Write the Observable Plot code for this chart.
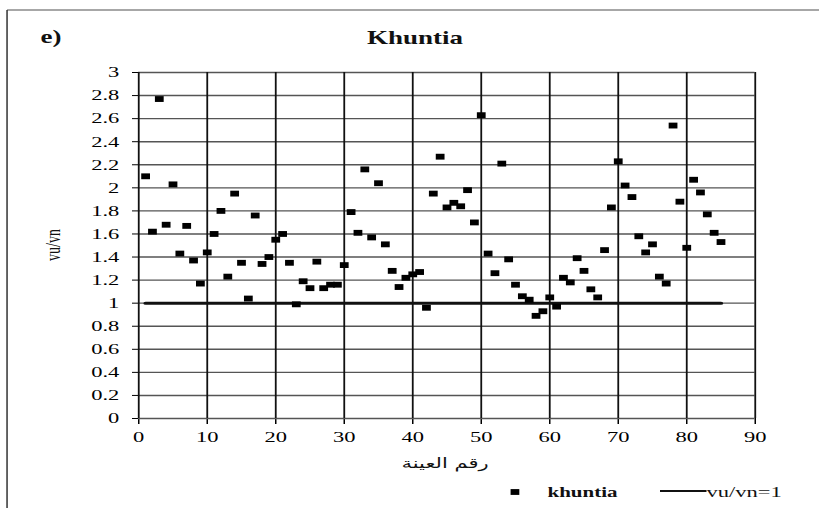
<!DOCTYPE html>
<html>
<head>
<meta charset="utf-8">
<script src="https://cdn.jsdelivr.net/npm/d3@7"></script>
<script src="https://cdn.jsdelivr.net/npm/@observablehq/plot@0.6"></script>
<style>
  html, body { margin: 0; padding: 0; background: #fff; }
  #chart { width: 819px; height: 508px; overflow: hidden; }
</style>
</head>
<body>
<div id="chart"></div>
<script>
// ---- data ----
const vuvnValues = [
  2.10, 1.62, 2.77, 1.68, 2.03, 1.43, 1.67, 1.37, 1.17, 1.44,
  1.60, 1.80, 1.23, 1.95, 1.35, 1.04, 1.76, 1.34, 1.40, 1.55,
  1.60, 1.35, 0.99, 1.19, 1.13, 1.36, 1.13, 1.16, 1.16, 1.33,
  1.79, 1.61, 2.16, 1.57, 2.04, 1.51, 1.28, 1.14, 1.22, 1.25,
  1.27, 0.96, 1.95, 2.27, 1.83, 1.87, 1.84, 1.98, 1.70, 2.63,
  1.43, 1.26, 2.21, 1.38, 1.16, 1.06, 1.03, 0.89, 0.93, 1.05,
  0.97, 1.22, 1.18, 1.39, 1.28, 1.12, 1.05, 1.46, 1.83, 2.23,
  2.02, 1.92, 1.58, 1.44, 1.51, 1.23, 1.17, 2.54, 1.88, 1.48,
  2.07, 1.96, 1.77, 1.61, 1.53
];
const refLineX = [1, 85];
const refLineY = [1, 1];
const xTicks = [0, 10, 20, 30, 40, 50, 60, 70, 80, 90];
const yTicks = [0, 0.2, 0.4, 0.6, 0.8, 1, 1.2, 1.4, 1.6, 1.8, 2, 2.2, 2.4, 2.6, 2.8, 3];
const titleText = "Khuntia";
const panelText = "e)";
const xLabel = "رقم العينة";
const yLabel = "vu/vn";
const legendPoints = "khuntia";
const legendLine = "vu/vn=1";

const points = vuvnValues.map((v, i) => ({sample: i + 1, value: v}));
const refLine = refLineX.map((x, i) => ({x, y: refLineY[i]}));

// internal drawing width; the SVG is stretched horizontally to 819px
const W = 546, H = 508;

const serif = "'Liberation Serif', 'Times New Roman', serif";

const plot = Plot.plot({
  width: W,
  height: H,
  marginLeft: 92,
  marginRight: 43,
  marginTop: 72,
  marginBottom: 90,
  style: {fontFamily: serif, fontSize: "15px", color: "#000", background: "#fff"},
  x: {domain: [0, 90], ticks: xTicks, label: null, tickSize: 6, tickPadding: 7},
  y: {domain: [0, 3], ticks: yTicks, label: null, tickSize: 4, tickPadding: 9,
      tickFormat: d => String(+d.toFixed(1))},
  marks: [
    Plot.ruleY(yTicks, {stroke: "#555", strokeWidth: 1.4}),
    Plot.ruleX(xTicks, {stroke: "#111", strokeWidth: 1.2}),
    Plot.line(refLine, {x: "x", y: "y", stroke: "#111", strokeWidth: 3}),
    Plot.dot(points, {x: "sample", y: "value", symbol: "square", r: 3.3, fill: "#000", stroke: null})
  ]
});

const svg = d3.select(plot);
svg.attr("width", 819).attr("height", H)
   .attr("viewBox", `0 0 ${W} ${H}`)
   .attr("preserveAspectRatio", "none")
   .style("width", "819px").style("height", H + "px").style("max-width", "none");

const deco = svg.append("g").attr("text-anchor", "start");
// outer frame (top and left)
deco.append("line").attr("x1", 4.7).attr("x2", W).attr("y1", 10).attr("y2", 10)
  .attr("stroke", "#8a8a8a").attr("stroke-width", 1.5);
deco.append("line").attr("x1", 4.7).attr("x2", 4.7).attr("y1", 10).attr("y2", H)
  .attr("stroke", "#333").attr("stroke-width", 1);

// title and panel letter
deco.append("text").attr("x", 276.7).attr("y", 44).attr("text-anchor", "middle")
  .attr("font-family", serif).attr("font-weight", "bold").attr("font-size", 18)
  .attr("fill", "#111").text(titleText);
deco.append("text").attr("x", 27).attr("y", 43).attr("text-anchor", "start")
  .attr("font-family", serif).attr("font-weight", "bold").attr("font-size", 18)
  .attr("fill", "#111").text(panelText);

// axis labels
deco.append("text").attr("transform", "translate(40,245) rotate(-90)")
  .attr("text-anchor", "middle").attr("font-family", serif).attr("font-size", 14)
  .attr("fill", "#111").text(yLabel);
deco.append("text").attr("x", 296.7).attr("y", 468).attr("text-anchor", "middle")
  .attr("font-family", "'DejaVu Sans', sans-serif").attr("font-size", 14)
  .attr("direction", "rtl").attr("fill", "#111").text(xLabel);

// legend
deco.append("path").attr("transform", "translate(343.3,492)")
  .attr("d", d3.symbol(d3.symbolSquare, 34)()).attr("fill", "#000");
deco.append("text").attr("x", 365).attr("y", 497).attr("text-anchor", "start")
  .attr("font-family", serif).attr("font-weight", "bold").attr("font-size", 14)
  .attr("fill", "#111").text(legendPoints);
deco.append("line").attr("x1", 440).attr("x2", 471).attr("y1", 491).attr("y2", 491)
  .attr("stroke", "#111").attr("stroke-width", 2.2);
deco.append("text").attr("x", 471).attr("y", 497).attr("text-anchor", "start")
  .attr("font-family", serif).attr("font-size", 15).attr("fill", "#111").text(legendLine);

document.getElementById("chart").appendChild(plot);
</script>
</body>
</html>
